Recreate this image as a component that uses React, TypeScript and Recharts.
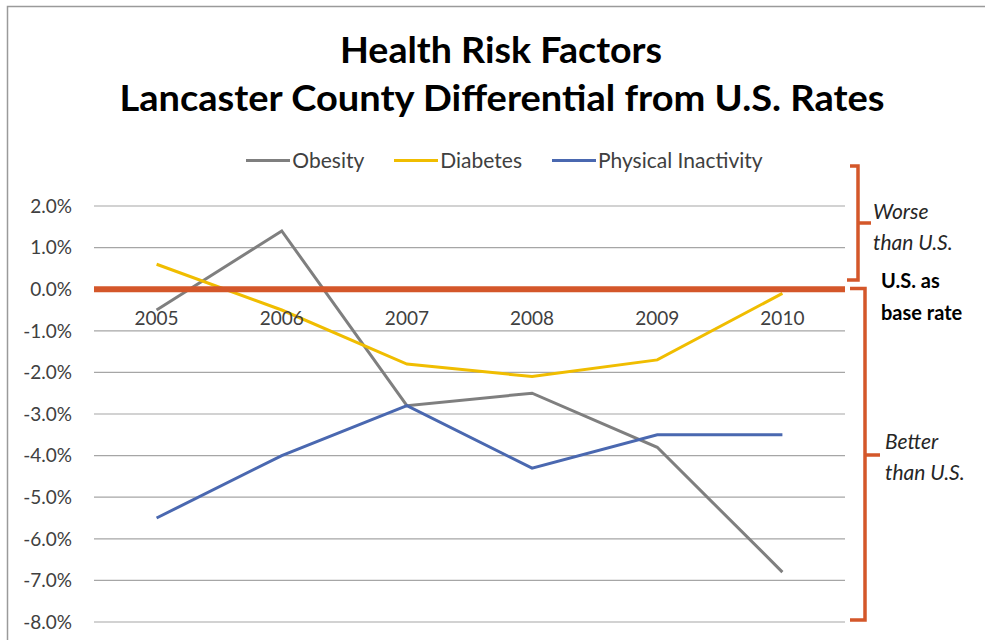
import React from 'react';
import { LineChart, Line, XAxis, YAxis, CartesianGrid, ReferenceLine, Legend, LabelList } from 'recharts';

const years = ['2005', '2006', '2007', '2008', '2009', '2010'];
const obesity = [-0.5, 1.4, -2.8, -2.5, -3.8, -6.8];
const diabetes = [0.6, -0.5, -1.8, -2.1, -1.7, -0.1];
const inactivity = [-5.5, -4.0, -2.8, -4.3, -3.5, -3.5];
const baseRate = [0, 0, 0, 0, 0, 0];
const yTicks = [-8, -7, -6, -5, -4, -3, -2, -1, 0, 1, 2];

const seriesNames = ['Obesity', 'Diabetes', 'Physical Inactivity'];
const seriesColors = ['#7f7f7f', '#f0bd00', '#4a68b0'];

const data = years.map((year, i) => ({
  year,
  Obesity: obesity[i],
  Diabetes: diabetes[i],
  'Physical Inactivity': inactivity[i],
  base: baseRate[i],
}));

const FONT = 'Lato, "Open Sans", sans-serif';
const ORANGE = '#d4572a';

const renderLegend = (props: any) => {
  const payload = (props.payload || [])
    .filter((p: any) => seriesNames.includes(p.value))
    .sort((a: any, b: any) => seriesNames.indexOf(a.value) - seriesNames.indexOf(b.value));
  return (
    <div style={{ display: 'flex', justifyContent: 'center', paddingLeft: 24, fontFamily: FONT, fontSize: 21, color: '#404040', lineHeight: '24px' }}>
      {payload.map((p: any, i: number) => (
        <div key={i} style={{ display: 'flex', alignItems: 'center', marginRight: i < payload.length - 1 ? 30 : 0 }}>
          <span style={{ display: 'inline-block', width: 44, height: 3, background: p.color, marginRight: 2 }} />
          <span>{p.value}</span>
        </div>
      ))}
    </div>
  );
};

export default function App() {
  return (
    <div style={{ position: 'absolute', left: 0, top: 0, width: 985, height: 640, background: '#fff', overflow: 'hidden' }}>
      <LineChart width={985} height={640} data={data} margin={{ top: 206, right: 140, bottom: 18, left: 0 }}>
        <CartesianGrid horizontal vertical={false} stroke="#a6a6a6" strokeWidth={1.2} />
        <XAxis dataKey="year" hide padding={{ left: 62.6, right: 62.6 }} />
        <YAxis
          width={94}
          domain={[-8, 2]}
          ticks={yTicks}
          interval={0}
          axisLine={false}
          tickLine={false}
          tickMargin={16}
          tick={{ fontFamily: FONT, fontSize: 19, fill: '#404040' }}
          tickFormatter={(v: number) => `${v.toFixed(1)}%`}
        />
        <Legend verticalAlign="middle" align="center" layout="horizontal" wrapperStyle={{ top: 148, left: 0, width: 985 }} content={renderLegend} />
        {seriesNames.map((name, i) => (
          <Line key={name} type="linear" dataKey={name} stroke={seriesColors[i]} strokeWidth={3} dot={false} activeDot={false} isAnimationActive={false} />
        ))}
        <ReferenceLine y={0} stroke={ORANGE} strokeWidth={6} />
        <Line dataKey="base" stroke="none" dot={false} activeDot={false} legendType="none" isAnimationActive={false}>
          <LabelList dataKey="year" position="bottom" offset={22} style={{ fontFamily: FONT, fontSize: 19, fill: '#404040' }} />
        </Line>
      </LineChart>
      <svg width={985} height={640} style={{ position: 'absolute', left: 0, top: 0, pointerEvents: 'none' }}>
        <path d="M7.5 640 V6.5 H985" fill="none" stroke="#9a9a9a" strokeWidth={1.5} />
        <text x={501} y={63} textAnchor="middle" fontFamily={FONT} fontWeight="bold" fontSize={36} fill="#000" textLength={322} lengthAdjust="spacingAndGlyphs">Health Risk Factors</text>
        <text x={502} y={111} textAnchor="middle" fontFamily={FONT} fontWeight="bold" fontSize={36} fill="#000" textLength={765} lengthAdjust="spacingAndGlyphs">Lancaster County Differential from U.S. Rates</text>
        <path d="M850 166 H858 V280 H847 M858 223 H871" fill="none" stroke={ORANGE} strokeWidth={3.5} />
        <path d="M850 288.5 H865 V620 H850 M865 455 H880" fill="none" stroke={ORANGE} strokeWidth={3.5} />
        <g fontFamily={FONT} fontSize={21} fill="#262626" fontStyle="italic">
          <text x={873} y={210} dominantBaseline="central">Worse</text>
          <text x={873} y={241} dominantBaseline="central">than U.S.</text>
          <text x={885} y={440} dominantBaseline="central">Better</text>
          <text x={885} y={471} dominantBaseline="central">than U.S.</text>
        </g>
        <g fontFamily={FONT} fontSize={20} fill="#000" fontWeight="bold">
          <text x={881} y={280} dominantBaseline="central">U.S. as</text>
          <text x={881} y={312} dominantBaseline="central">base rate</text>
        </g>
      </svg>
    </div>
  );
}
